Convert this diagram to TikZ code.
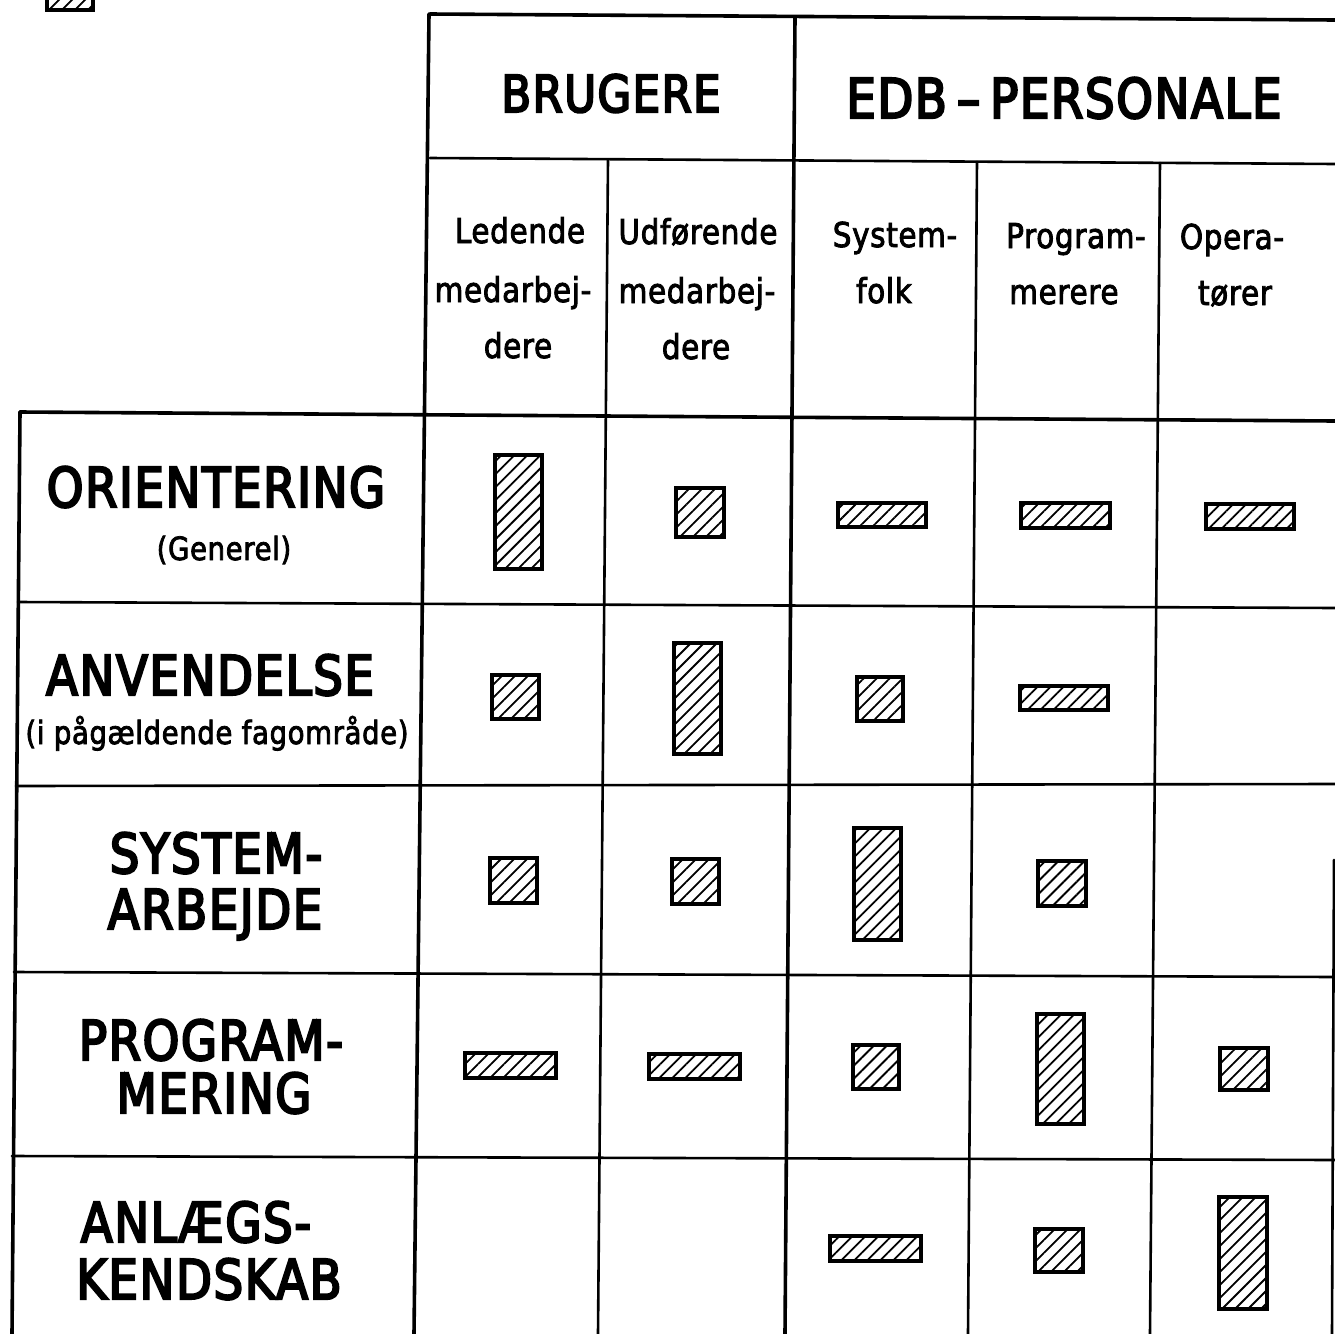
\documentclass[tikz,border=0pt]{standalone}
\usepackage{fontspec}
\newfontfamily\lt[FakeStretch=0.85,FakeBold=4,LetterSpace=3]{DejaVu Sans}
\newfontfamily\ls[FakeStretch=0.86,FakeBold=2.5,LetterSpace=2]{DejaVu Sans}
\usetikzlibrary{patterns.meta}
\tikzset{
 major/.style={line width=1.8pt, line cap=round},
 minor/.style={line width=1.3pt, line cap=round},
 hatchbox/.style={draw, line width=1.6pt, line join=miter, pattern={Lines[angle=45,distance=4.6pt,line width=0.9pt]}},
 big/.style={font=\lt\fontsize{27.4}{30}\selectfont, anchor=base, inner sep=0pt},
 hdr/.style={font=\lt\fontsize{25.5}{30}\selectfont, anchor=base, inner sep=0pt},
 sub/.style={font=\ls\fontsize{17.1}{20}\selectfont, anchor=base, inner sep=0pt},
 paren/.style={font=\ls\fontsize{16}{20}\selectfont, anchor=base, inner sep=0pt},
}
\begin{document}
\begin{tikzpicture}[x=0.5pt,y=-0.5pt]
\useasboundingbox (0,0) rectangle (1335,1334);

% legend fragment at top left
\begin{scope}
\clip (0,0) rectangle (1335,1334);
\draw[hatchbox] (47,-12) rectangle (93,10);
\end{scope}

% header box
\draw[major] (430,14) -- (1335,20);
\draw[minor] (430,158) -- (1335,164);
\draw[major] (429,14) -- (414,1334);
\draw[major] (795,18) -- (785,1334);
\draw[minor] (608,160) -- (598,1334);
\draw[minor] (977,162) -- (968,1334);
\draw[minor] (1160,163) -- (1150,1334);

% row table
\draw[major] (20,412) -- (1335,421);
\draw[major] (20,412) -- (12,1334);
\draw[minor] (18,602) -- (1335,608);
\draw[minor] (16,786) -- (1335,784);
\draw[minor] (14,972) -- (1335,977);
\draw[minor] (12,1156) -- (1335,1160);
\draw[minor] (1334,860) -- (1332,1334);

% headers
\node[hdr] (brugere) at (611,112) {BRUGERE};
\node[big] (edb) at (1064,118) {EDB\kern5pt–\kern5pt PERSONALE};

\node[sub] (c1a) at (520,243) {Ledende};
\node[sub] (c1b) at (513,302) {medarbej-};
\node[sub] (c1c) at (518,358) {dere};
\node[sub] (c2a) at (698,244) {Udførende};
\node[sub] (c2b) at (697,303) {medarbej-};
\node[sub] (c2c) at (696,359) {dere};
\node[sub] (c3a) at (895,247) {System-};
\node[sub] (c3b) at (884,303) {folk};
\node[sub] (c4a) at (1076,248) {Program-};
\node[sub] (c4b) at (1064,304) {merere};
\node[sub] (c5a) at (1232,249) {Opera-};
\node[sub] (c5b) at (1235,305) {tører};

% row labels
\node[big] (r1a) at (216,507) {ORIENTERING};
\node[paren] (r1b) at (224,560) {(Generel)};
\node[big] (r2a) at (210,695) {ANVENDELSE};
\node[paren] (r2b) at (217,744) {(i pågældende fagområde)};
\node[big] (r3a) at (216,873) {SYSTEM-};
\node[big] (r3b) at (215,929) {ARBEJDE};
\node[big] (r4a) at (211,1060) {PROGRAM-};
\node[big] (r4b) at (214,1113) {MERING};
\node[big] (r5a) at (196,1242) {ANLÆGS-};
\node[big] (r5b) at (209,1299) {KENDSKAB};

% row 1
\draw[hatchbox] (495,455) rectangle (542,569);
\draw[hatchbox] (676,488) rectangle (724,537);
\draw[hatchbox] (838,503) rectangle (926,527);
\draw[hatchbox] (1021,503) rectangle (1110,528);
\draw[hatchbox] (1206,504) rectangle (1294,529);
% row 2
\draw[hatchbox] (492,675) rectangle (539,719);
\draw[hatchbox] (674,643) rectangle (721,754);
\draw[hatchbox] (857,677) rectangle (903,721);
\draw[hatchbox] (1020,686) rectangle (1108,710);
% row 3
\draw[hatchbox] (490,858) rectangle (537,903);
\draw[hatchbox] (672,859) rectangle (719,904);
\draw[hatchbox] (854,828) rectangle (901,940);
\draw[hatchbox] (1038,861) rectangle (1086,906);
% row 4
\draw[hatchbox] (465,1053) rectangle (556,1078);
\draw[hatchbox] (649,1054) rectangle (740,1079);
\draw[hatchbox] (853,1045) rectangle (899,1089);
\draw[hatchbox] (1037,1014) rectangle (1084,1124);
\draw[hatchbox] (1220,1048) rectangle (1268,1090);
% row 5
\draw[hatchbox] (830,1236) rectangle (921,1261);
\draw[hatchbox] (1035,1229) rectangle (1083,1272);
\draw[hatchbox] (1219,1197) rectangle (1267,1309);
\end{tikzpicture}
\end{document}
